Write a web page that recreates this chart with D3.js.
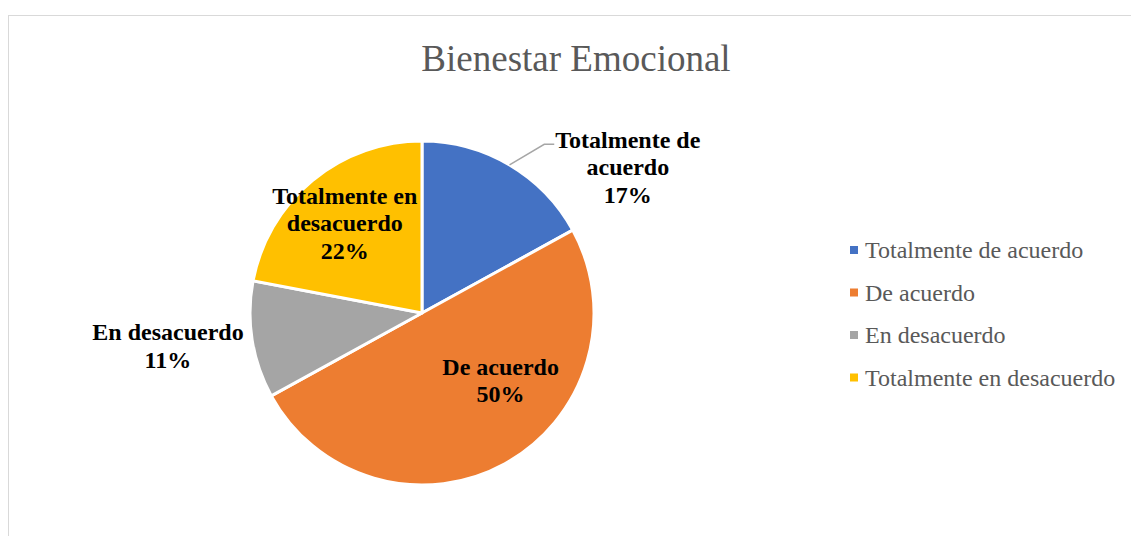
<!DOCTYPE html>
<html>
<head>
<meta charset="utf-8">
<script src="https://cdn.jsdelivr.net/npm/d3@7"></script>
<style>
  html, body { margin: 0; padding: 0; background: #fff; }
  svg { display: block; }
</style>
</head>
<body>
<div id="chart"></div>
<script>
// values
const categories = ['Totalmente de acuerdo', 'De acuerdo', 'En desacuerdo', 'Totalmente en desacuerdo'];
const shares = [17, 50, 11, 22];
const colors = ['#4472c4', '#ed7d31', '#a5a5a5', '#ffc000'];
// data label text, line by line
const labelLines = [
  ['Totalmente de', 'acuerdo'],
  ['De acuerdo'],
  ['En desacuerdo'],
  ['Totalmente en', 'desacuerdo']
];

const W = 1131, H = 536;
const cx = 422, cy = 313, radius = 172;
const serif = '"Liberation Serif", "Times New Roman", serif';

// label placement (radius along mid angle + nudge), like excel best fit
const labelLayout = [
  {r: 200, dx: 104, dy: 26},
  {r: 103, dx: 29, dy: -23},
  {r: 240, dx: -17, dy: -5},
  {r: 118, dx: -2, dy: 1}
];

const data = categories.map((c, i) => ({name: c, value: shares[i], color: colors[i], lines: labelLines[i]}));

const svg = d3.select('#chart').append('svg')
  .attr('width', W)
  .attr('height', H);

// chart frame
svg.append('rect')
  .attr('x', 8.5).attr('y', 15.5)
  .attr('width', 1200).attr('height', 600)
  .attr('fill', '#fff')
  .attr('stroke', '#d9d9d9')
  .attr('stroke-width', 1);

svg.append('text')
  .attr('x', 576).attr('y', 71)
  .attr('text-anchor', 'middle')
  .attr('font-family', serif)
  .attr('font-size', 37)
  .attr('fill', '#595959')
  .text('Bienestar Emocional');

const pie = d3.pie().value(d => d.value).sort(null);
const arcs = pie(data);
const arc = d3.arc().innerRadius(0).outerRadius(radius);

const g = svg.append('g').attr('transform', `translate(${cx},${cy})`);

g.selectAll('path.slice')
  .data(arcs)
  .enter().append('path')
  .attr('class', 'slice')
  .attr('d', arc)
  .attr('fill', d => d.data.color)
  .attr('stroke', '#fff')
  .attr('stroke-width', 3)
  .attr('stroke-linejoin', 'round');

const lineH = 27.5;
const labels = g.selectAll('text.lbl')
  .data(arcs)
  .enter().append('text')
  .attr('class', 'lbl')
  .attr('text-anchor', 'middle')
  .attr('font-family', serif)
  .attr('font-size', 24)
  .attr('font-weight', 'bold')
  .attr('fill', '#000')
  .attr('transform', (d, i) => {
    const lay = labelLayout[i];
    const p = d3.arc().innerRadius(lay.r).outerRadius(lay.r).centroid(d);
    return `translate(${p[0] + lay.dx},${p[1] + lay.dy})`;
  });

labels.each(function(d) {
  const allLines = d.data.lines.concat([d.data.value + '%']);
  const n = allLines.length;
  const t = d3.select(this);
  allLines.forEach((ln, k) => {
    t.append('tspan')
      .attr('x', 0)
      .attr('y', (k - (n - 1) / 2) * lineH)
      .attr('dy', '0.35em')
      .text(ln);
  });
});

// leader line for first slice
{
  const d = arcs[0];
  const mid = (d.startAngle + d.endAngle) / 2;
  const x0 = Math.sin(mid) * radius, y0 = -Math.cos(mid) * radius;
  const node = labels.nodes()[0];
  const bb = node.getBBox();
  const tr = d3.select(node).attr('transform').match(/translate\(([^,]+),([^)]+)\)/);
  const lx = +tr[1] + bb.x - 1;
  const ly = +tr[2] - lineH + 5;
  g.append('polyline')
    .attr('points', [[x0, y0], [lx - 10, ly], [lx, ly]].map(p => p.join(',')).join(' '))
    .attr('fill', 'none')
    .attr('stroke', '#a6a6a6')
    .attr('stroke-width', 1.5);
}

// legend
const legend = svg.append('g').attr('transform', 'translate(850,250)');
const item = legend.selectAll('g')
  .data(data)
  .enter().append('g')
  .attr('transform', (d, i) => `translate(0,${i * 42.5})`);

item.append('rect')
  .attr('x', 0).attr('y', -4)
  .attr('width', 8).attr('height', 8)
  .attr('fill', d => d.color);

item.append('text')
  .attr('x', 15).attr('y', 0)
  .attr('dy', '0.35em')
  .attr('font-family', serif)
  .attr('font-size', 24)
  .attr('fill', '#595959')
  .text(d => d.name);
</script>
</body>
</html>
